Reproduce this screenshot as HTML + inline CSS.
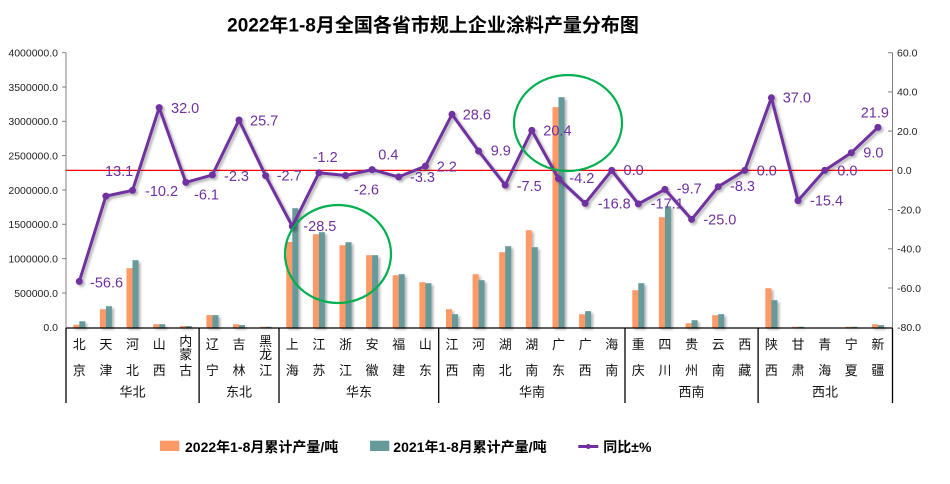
<!DOCTYPE html>
<html>
<head>
<meta charset="utf-8">
<style>
html,body{margin:0;padding:0;background:#fff;}
svg{display:block;}
.t{font-family:"Liberation Sans","Noto Sans CJK SC",sans-serif;}
</style>
</head>
<body>
<svg width="950" height="484" viewBox="0 0 950 484" xmlns="http://www.w3.org/2000/svg">
<defs>
<filter id="sh" x="-20%" y="-20%" width="140%" height="140%">
<feDropShadow dx="2" dy="2" stdDeviation="1.2" flood-color="#000" flood-opacity="0.3"/>
</filter>
</defs>
<rect width="950" height="484" fill="#fff"/>

<!-- title -->
<text class="t" x="433" y="31.5" text-anchor="middle" font-size="19" font-weight="bold" fill="#000">2022年1-8月全国各省市规上企业涂料产量分布图</text>

<!-- left axis -->
<g stroke="#808080" stroke-width="1">
<line x1="66" y1="52.7" x2="66" y2="328"/>
<line x1="62" y1="52.7" x2="66" y2="52.7"/>
<line x1="62" y1="87" x2="66" y2="87"/>
<line x1="62" y1="121.3" x2="66" y2="121.3"/>
<line x1="62" y1="155.6" x2="66" y2="155.6"/>
<line x1="62" y1="190" x2="66" y2="190"/>
<line x1="62" y1="224.3" x2="66" y2="224.3"/>
<line x1="62" y1="258.6" x2="66" y2="258.6"/>
<line x1="62" y1="293" x2="66" y2="293"/>
<line x1="892.5" y1="52.7" x2="892.5" y2="328"/>
<line x1="888" y1="52.7" x2="892.5" y2="52.7"/>
<line x1="888" y1="91.9" x2="892.5" y2="91.9"/>
<line x1="888" y1="131.1" x2="892.5" y2="131.1"/>
<line x1="888" y1="209.6" x2="892.5" y2="209.6"/>
<line x1="888" y1="248.8" x2="892.5" y2="248.8"/>
<line x1="888" y1="288" x2="892.5" y2="288"/>
</g>
<g class="t" font-size="10.5" fill="#222" text-anchor="end">
<text x="58" y="56.5">4000000.0</text>
<text x="58" y="90.8">3500000.0</text>
<text x="58" y="125.1">3000000.0</text>
<text x="58" y="159.4">2500000.0</text>
<text x="58" y="193.8">2000000.0</text>
<text x="58" y="228.1">1500000.0</text>
<text x="58" y="262.4">1000000.0</text>
<text x="58" y="296.8">500000.0</text>
<text x="58" y="331">0.0</text>
</g>
<g class="t" font-size="10.5" fill="#222">
<text x="897" y="56.5">60.0</text>
<text x="897" y="95.7">40.0</text>
<text x="897" y="134.9">20.0</text>
<text x="897" y="174.2">0.0</text>
<text x="897" y="213.4">-20.0</text>
<text x="897" y="252.6">-40.0</text>
<text x="897" y="291.8">-60.0</text>
<text x="897" y="331">-80.0</text>
</g>

<!-- bars -->
<g filter="url(#sh)">
<g fill="#ff9966">
<rect x="73.3" y="324.8" width="6" height="2.7"/>
<rect x="99.9" y="309.2" width="6" height="18.3"/>
<rect x="126.5" y="268.2" width="6" height="59.3"/>
<rect x="153.2" y="324.2" width="6" height="3.3"/>
<rect x="179.8" y="326.1" width="6" height="1.4"/>
<rect x="206.4" y="315.1" width="6" height="12.4"/>
<rect x="233" y="324.2" width="6" height="3.3"/>
<rect x="259.6" y="326.8" width="6" height="0.7"/>
<rect x="286.3" y="241.9" width="6" height="85.6"/>
<rect x="312.9" y="234.2" width="6" height="93.3"/>
<rect x="339.5" y="245.2" width="6" height="82.3"/>
<rect x="366.1" y="255.2" width="6" height="72.3"/>
<rect x="392.7" y="275.2" width="6" height="52.3"/>
<rect x="419.4" y="282.2" width="6" height="45.3"/>
<rect x="446" y="309.2" width="6" height="18.3"/>
<rect x="472.6" y="274.2" width="6" height="53.3"/>
<rect x="499.2" y="252.2" width="6" height="75.3"/>
<rect x="525.8" y="230.2" width="6" height="97.3"/>
<rect x="552.5" y="107.2" width="6" height="220.3"/>
<rect x="579.1" y="314.2" width="6" height="13.3"/>
<rect x="632.3" y="290.2" width="6" height="37.3"/>
<rect x="658.9" y="217.2" width="6" height="110.3"/>
<rect x="685.6" y="323.2" width="6" height="4.3"/>
<rect x="712.2" y="315.2" width="6" height="12.3"/>
<rect x="765.4" y="288.2" width="6" height="39.3"/>
<rect x="792" y="326.8" width="6" height="0.7"/>
<rect x="845.3" y="326.8" width="6" height="0.7"/>
<rect x="871.9" y="324.2" width="6" height="3.3"/>
</g>
<g fill="#669999">
<rect x="79.3" y="321.3" width="6" height="6.2"/>
<rect x="105.9" y="306.2" width="6" height="21.3"/>
<rect x="132.5" y="260.2" width="6" height="67.3"/>
<rect x="159.2" y="324.2" width="6" height="3.3"/>
<rect x="185.8" y="326.1" width="6" height="1.4"/>
<rect x="212.4" y="315.1" width="6" height="12.4"/>
<rect x="239" y="325.1" width="6" height="2.4"/>
<rect x="265.6" y="326.8" width="6" height="0.7"/>
<rect x="292.3" y="208.2" width="6" height="119.3"/>
<rect x="318.9" y="232.2" width="6" height="95.3"/>
<rect x="345.5" y="242.2" width="6" height="85.3"/>
<rect x="372.1" y="255.2" width="6" height="72.3"/>
<rect x="398.7" y="274.2" width="6" height="53.3"/>
<rect x="425.4" y="283.2" width="6" height="44.3"/>
<rect x="452" y="314.2" width="6" height="13.3"/>
<rect x="478.6" y="280.2" width="6" height="47.3"/>
<rect x="505.2" y="246.2" width="6" height="81.3"/>
<rect x="531.8" y="247.2" width="6" height="80.3"/>
<rect x="558.5" y="97.2" width="6" height="230.3"/>
<rect x="585.1" y="311.2" width="6" height="16.3"/>
<rect x="638.3" y="283.2" width="6" height="44.3"/>
<rect x="664.9" y="206.2" width="6" height="121.3"/>
<rect x="691.6" y="320.2" width="6" height="7.3"/>
<rect x="718.2" y="314.2" width="6" height="13.3"/>
<rect x="771.4" y="300.2" width="6" height="27.3"/>
<rect x="798" y="326.8" width="6" height="0.7"/>
<rect x="851.3" y="326.8" width="6" height="0.7"/>
<rect x="877.9" y="325.1" width="6" height="2.4"/>
</g>
</g>

<!-- zero line -->
<line x1="66" y1="170.4" x2="892.5" y2="170.4" stroke="#ff0000" stroke-width="1.3"/>

<!-- x axis -->
<g stroke="#000" stroke-width="1.3">
<line x1="66" y1="328" x2="892.5" y2="328"/>
<line x1="66" y1="328" x2="66" y2="403"/>
<line x1="199.1" y1="328" x2="199.1" y2="403"/>
<line x1="279" y1="328" x2="279" y2="403"/>
<line x1="438.7" y1="328" x2="438.7" y2="403"/>
<line x1="625" y1="328" x2="625" y2="403"/>
<line x1="758.1" y1="328" x2="758.1" y2="403"/>
<line x1="892.5" y1="328" x2="892.5" y2="403"/>
</g>

<!-- line series -->
<g filter="url(#sh)">
<polyline fill="none" stroke="#7030a0" stroke-width="3" stroke-linejoin="round"
points="79.3,281.4 105.9,196.1 132.5,190.4 159.2,107.6 185.8,182.4 212.4,174.9 239,120 265.6,175.7 292.3,226.3 318.9,172.8 345.5,175.5 372.1,169.6 398.7,176.9 425.4,166.1 452,114.3 478.6,151 505.2,185.1 531.8,130.4 558.5,178.6 585.1,203.4 611.7,170.4 638.3,203.9 664.9,189.4 691.6,219.4 718.2,186.7 744.8,170.4 771.4,97.8 798,200.6 824.7,170.4 851.3,152.7 877.9,127.4"/>
<g fill="#7030a0">
<circle cx="79.3" cy="281.4" r="3.5"/><circle cx="105.9" cy="196.1" r="3.5"/><circle cx="132.5" cy="190.4" r="3.5"/><circle cx="159.2" cy="107.6" r="3.5"/><circle cx="185.8" cy="182.4" r="3.5"/><circle cx="212.4" cy="174.9" r="3.5"/><circle cx="239" cy="120" r="3.5"/><circle cx="265.6" cy="175.7" r="3.5"/><circle cx="292.3" cy="226.3" r="3.5"/><circle cx="318.9" cy="172.8" r="3.5"/><circle cx="345.5" cy="175.5" r="3.5"/><circle cx="372.1" cy="169.6" r="3.5"/><circle cx="398.7" cy="176.9" r="3.5"/><circle cx="425.4" cy="166.1" r="3.5"/><circle cx="452" cy="114.3" r="3.5"/><circle cx="478.6" cy="151" r="3.5"/><circle cx="505.2" cy="185.1" r="3.5"/><circle cx="531.8" cy="130.4" r="3.5"/><circle cx="558.5" cy="178.6" r="3.5"/><circle cx="585.1" cy="203.4" r="3.5"/><circle cx="611.7" cy="170.4" r="3.5"/><circle cx="638.3" cy="203.9" r="3.5"/><circle cx="664.9" cy="189.4" r="3.5"/><circle cx="691.6" cy="219.4" r="3.5"/><circle cx="718.2" cy="186.7" r="3.5"/><circle cx="744.8" cy="170.4" r="3.5"/><circle cx="771.4" cy="97.8" r="3.5"/><circle cx="798" cy="200.6" r="3.5"/><circle cx="824.7" cy="170.4" r="3.5"/><circle cx="851.3" cy="152.7" r="3.5"/><circle cx="877.9" cy="127.4" r="3.5"/>
</g>
</g>

<!-- data labels -->
<g class="t" font-size="14.5" fill="#7030a0">
<text x="90" y="287.5">-56.6</text>
<text x="105" y="176">13.1</text>
<text x="145" y="196">-10.2</text>
<text x="171" y="113">32.0</text>
<text x="194" y="199.5">-6.1</text>
<text x="224" y="181">-2.3</text>
<text x="250" y="125.5">25.7</text>
<text x="276.7" y="180.5">-2.7</text>
<text x="303.3" y="231">-28.5</text>
<text x="312.7" y="162">-1.2</text>
<text x="378.3" y="159.5">0.4</text>
<text x="354" y="194.5">-2.6</text>
<text x="410" y="182">-3.3</text>
<text x="436.7" y="171.5">2.2</text>
<text x="462.7" y="119.5">28.6</text>
<text x="490.7" y="155.5">9.9</text>
<text x="516.7" y="191">-7.5</text>
<text x="543.3" y="135.5">20.4</text>
<text x="569.3" y="183">-4.2</text>
<text x="597.7" y="208.5">-16.8</text>
<text x="623.5" y="175">0.0</text>
<text x="650.7" y="208.5">-17.1</text>
<text x="676.7" y="193.5">-9.7</text>
<text x="703.3" y="224.5">-25.0</text>
<text x="730" y="191">-8.3</text>
<text x="756.7" y="175.5">0.0</text>
<text x="782.7" y="102.5">37.0</text>
<text x="810" y="205.5">-15.4</text>
<text x="837.3" y="175.5">0.0</text>
<text x="863.3" y="157.5">9.0</text>
<text x="860.7" y="117.5">21.9</text>
</g>

<!-- green ellipses -->
<g fill="none" stroke="#00b050" stroke-width="2.2">
<ellipse cx="338" cy="254" rx="53" ry="49"/>
<ellipse cx="568" cy="123" rx="54" ry="48"/>
</g>

<!-- category labels -->
<g font-family="'Liberation Sans','Noto Sans CJK SC',sans-serif" font-size="13" fill="#111" text-anchor="middle">
<text x="79.3" y="349">北</text><text x="79.3" y="375">京</text>
<text x="105.9" y="349">天</text><text x="105.9" y="375">津</text>
<text x="132.5" y="349">河</text><text x="132.5" y="375">北</text>
<text x="159.2" y="349">山</text><text x="159.2" y="375">西</text>
<text x="185.8" y="346">内</text><text x="185.8" y="359">蒙</text><text x="185.8" y="375">古</text>
<text x="212.4" y="349">辽</text><text x="212.4" y="375">宁</text>
<text x="239" y="349">吉</text><text x="239" y="375">林</text>
<text x="265.6" y="346">黑</text><text x="265.6" y="359">龙</text><text x="265.6" y="375">江</text>
<text x="292.3" y="349">上</text><text x="292.3" y="375">海</text>
<text x="318.9" y="349">江</text><text x="318.9" y="375">苏</text>
<text x="345.5" y="349">浙</text><text x="345.5" y="375">江</text>
<text x="372.1" y="349">安</text><text x="372.1" y="375">徽</text>
<text x="398.7" y="349">福</text><text x="398.7" y="375">建</text>
<text x="425.4" y="349">山</text><text x="425.4" y="375">东</text>
<text x="452" y="349">江</text><text x="452" y="375">西</text>
<text x="478.6" y="349">河</text><text x="478.6" y="375">南</text>
<text x="505.2" y="349">湖</text><text x="505.2" y="375">北</text>
<text x="531.8" y="349">湖</text><text x="531.8" y="375">南</text>
<text x="558.5" y="349">广</text><text x="558.5" y="375">东</text>
<text x="585.1" y="349">广</text><text x="585.1" y="375">西</text>
<text x="611.7" y="349">海</text><text x="611.7" y="375">南</text>
<text x="638.3" y="349">重</text><text x="638.3" y="375">庆</text>
<text x="664.9" y="349">四</text><text x="664.9" y="375">川</text>
<text x="691.6" y="349">贵</text><text x="691.6" y="375">州</text>
<text x="718.2" y="349">云</text><text x="718.2" y="375">南</text>
<text x="744.8" y="349">西</text><text x="744.8" y="375">藏</text>
<text x="771.4" y="349">陕</text><text x="771.4" y="375">西</text>
<text x="798" y="349">甘</text><text x="798" y="375">肃</text>
<text x="824.7" y="349">青</text><text x="824.7" y="375">海</text>
<text x="851.3" y="349">宁</text><text x="851.3" y="375">夏</text>
<text x="877.9" y="349">新</text><text x="877.9" y="375">疆</text>
<text x="132.5" y="396.5">华北</text>
<text x="239" y="396.5">东北</text>
<text x="359" y="396.5">华东</text>
<text x="532" y="396.5">华南</text>
<text x="691.5" y="396.5">西南</text>
<text x="825" y="396.5">西北</text>
</g>

<!-- legend -->
<rect x="160" y="440.7" width="19.3" height="10.3" fill="#ff9966"/>
<text class="t" x="185" y="452" font-size="14" font-weight="bold" fill="#000">2022年1-8月累计产量/吨</text>
<rect x="370" y="440.7" width="19.3" height="10.3" fill="#669999"/>
<text class="t" x="393.3" y="452" font-size="14" font-weight="bold" fill="#000">2021年1-8月累计产量/吨</text>
<line x1="578.3" y1="446.5" x2="598.3" y2="446.5" stroke="#7030a0" stroke-width="3"/>
<circle cx="588.3" cy="446.5" r="2.5" fill="#7030a0"/>
<text class="t" x="603.3" y="452" font-size="14" font-weight="bold" fill="#000">同比±%</text>
</svg>
</body>
</html>
